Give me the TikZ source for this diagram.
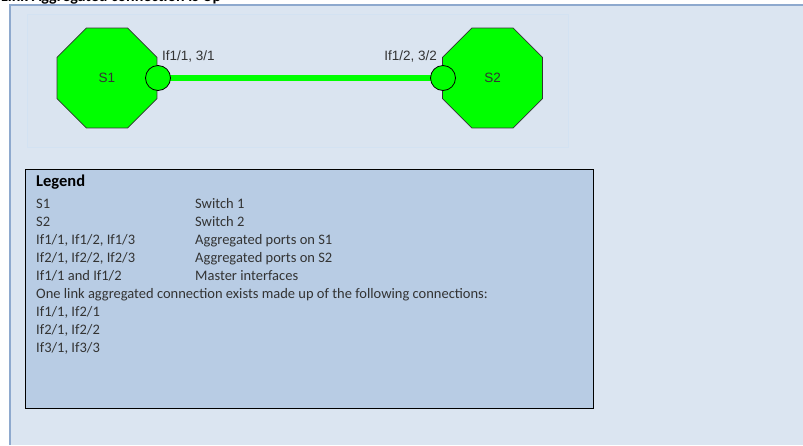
\documentclass[tikz,border=0pt]{standalone}
\usepackage{fontspec}
\setmainfont{Carlito}
\newfontfamily\arialf{Liberation Sans}
\usetikzlibrary{shapes.geometric}
\definecolor{panelbg}{HTML}{DBE5F1}
\definecolor{panelline}{HTML}{8EA9CE}
\definecolor{innerbg}{HTML}{DAE4F0}
\definecolor{innerline}{HTML}{D3E2F2}
\definecolor{legendbg}{HTML}{B8CCE4}
\definecolor{swgreen}{HTML}{00FF00}
\definecolor{txtc}{HTML}{333333}
\begin{document}
\begin{tikzpicture}[x=1pt,y=-1pt,
  switchnode/.style={regular polygon, regular polygon sides=8, minimum size=108.2pt, inner sep=0pt,
    fill=swgreen, draw=black!80, line width=0.7pt, font=\arialf\fontsize{13.5}{15}\selectfont, text=txtc},
  portnode/.style={circle, minimum size=25pt, inner sep=0pt, fill=swgreen, draw=black, line width=0.8pt},
  portlabel/.style={font=\arialf\fontsize{13.5}{15}\selectfont, text=txtc, inner sep=0pt},
  legtext/.style={font=\fontsize{14.5}{18}\selectfont, text=txtc, inner sep=0pt, anchor=base west},
  linkline/.style={draw=swgreen, line width=6.5pt}]
\useasboundingbox (0,0) rectangle (803,445);
\clip (0,0) rectangle (803,445);
\fill[white] (0,0) rectangle (803,445);
\node[anchor=base west, font=\bfseries\fontsize{16}{18}\selectfont, inner sep=0pt] (title) at (1,1.5) {Link Aggregated connection is Up};
\fill[panelbg] (10,5) rectangle (803,445);
\draw[panelline, line width=1.2pt] (803,5) -- (10,5) -- (10,445);
\draw[innerline, fill=innerbg, line width=0.5pt] (27,14) rectangle (568,147);
% link
\coordinate (p1c) at (158,78);
\coordinate (p2c) at (443,78);
\draw[linkline] (p1c) -- (p2c);
% switches
\node[switchnode] (s1) at (107,78) {S1};
\node[switchnode] (s2) at (492.5,78) {S2};
\node[portnode] (p1) at (p1c) {};
\node[portnode] (p2) at (p2c) {};
\node[portlabel, anchor=west] (l1) at (162,56) {If1/1, 3/1};
\node[portlabel, anchor=east] (l2) at (437,56) {If1/2, 3/2};
% legend
\node[draw=black, line width=1pt, fill=legendbg, minimum width=568pt, minimum height=239pt, inner sep=0pt, anchor=north west] (legend) at (25,169) {};
\node[legtext, font=\bfseries\fontsize{16.5}{18}\selectfont, text=black] (lt) at (36,186) {Legend};
\node[legtext] (a1) at (36,208) {S1};
\node[legtext] (b1) at (195,208) {Switch 1};
\node[legtext] (a2) at (36,226) {S2};
\node[legtext] (b2) at (195,226) {Switch 2};
\node[legtext] (a3) at (36,244) {If1/1, If1/2, If1/3};
\node[legtext] (b3) at (195,244) {Aggregated ports on S1};
\node[legtext] (a4) at (36,262) {If2/1, If2/2, If2/3};
\node[legtext] (b4) at (195,262) {Aggregated ports on S2};
\node[legtext] (a5) at (36,280) {If1/1 and If1/2};
\node[legtext] (b5) at (195,280) {Master interfaces};
\node[legtext] (a6) at (36,298) {One link aggregated connection exists made up of the following connections:};
\node[legtext] (a7) at (36,316) {If1/1, If2/1};
\node[legtext] (a8) at (36,334) {If2/1, If2/2};
\node[legtext] (a9) at (36,352) {If3/1, If3/3};
\end{tikzpicture}
\end{document}
